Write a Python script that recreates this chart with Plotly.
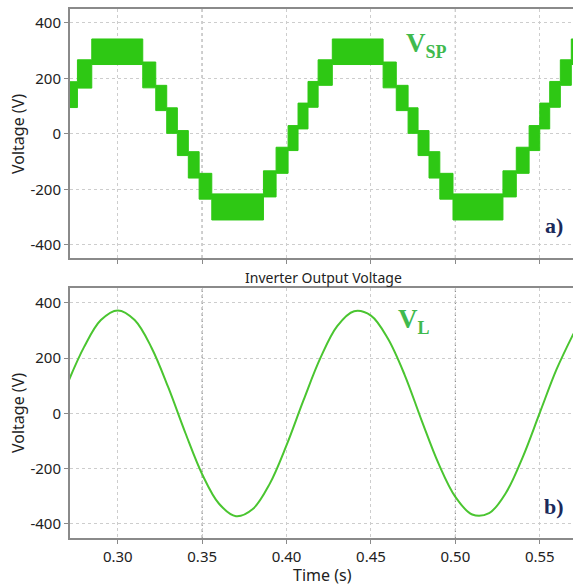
import plotly.graph_objects as go
from plotly.subplots import make_subplots

# ---- data: top (staircase multilevel voltage, PWM band) ----
seg_start = [0.2700, 0.2761, 0.2846, 0.3148, 0.3225, 0.3290, 0.3353, 0.3418, 0.3482, 0.3557,
             0.3863, 0.3938, 0.4009, 0.4068, 0.4127, 0.4187, 0.4271, 0.4572, 0.4650, 0.4720,
             0.4779, 0.4844, 0.4908, 0.4986, 0.5282, 0.5361, 0.5437, 0.5500, 0.5559, 0.5622,
             0.5687]
seg_end_last = 0.5750
seg_low = [95, 165, 250, 166, 84, 2, -78, -159, -235, -310,
           -227, -142, -60, 18, 96, 175, 250, 166, 84, 2,
           -78, -159, -235, -310, -227, -142, -60, 18, 96, 175,
           250]
seg_high = [188, 267, 342, 259, 175, 94, 12, -64, -142, -216,
            -133, -48, 30, 111, 189, 267, 342, 259, 175, 94,
            12, -64, -142, -216, -133, -48, 30, 111, 189, 267,
            342]

# ---- data: bottom (inverter output voltage) ----
t_out = [0.27, 0.28, 0.29, 0.30, 0.31, 0.32, 0.33, 0.34, 0.35, 0.36,
         0.37, 0.38, 0.39, 0.40, 0.41, 0.42, 0.43, 0.44, 0.45, 0.46,
         0.47, 0.48, 0.49, 0.50, 0.51, 0.52, 0.53, 0.54, 0.55, 0.56, 0.57]
v_out = [105, 240, 338, 373, 338, 238, 93, -70, -220, -327,
         -372, -346, -255, -115, 47, 200, 316, 370, 354, 271,
         139, -25, -181, -302, -366, -361, -287, -157, 2, 160, 289]

x_ticks = [0.30, 0.35, 0.40, 0.45, 0.50, 0.55]
x_tick_text = ["0.30", "0.35", "0.40", "0.45", "0.50", "0.55"]
y_ticks = [-400, -200, 0, 200, 400]
y_tick_text = ["-400", "-200", "0", "200", "400"]

# build polygon for band
seg_end = seg_start[1:] + [seg_end_last]
px, py = [], []
for a, b, h in zip(seg_start, seg_end, seg_high):
    px += [a, b]
    py += [h, h]
for a, b, l in reversed(list(zip(seg_start, seg_end, seg_low))):
    px += [b, a]
    py += [l, l]
px.append(px[0]); py.append(py[0])

W, H = 573, 587
ml, mr, mt, mb = 70, 0, 9, 49
plot_h = H - mt - mb
top_dom = [(538 - 258) / plot_h, 1.0]
bot_dom = [0.0, (538 - 288) / plot_h]

fig = make_subplots(rows=2, cols=1)
band_col = "#2ec814"
fig.add_trace(go.Scatter(x=px, y=py, mode="lines", fill="toself", fillcolor=band_col,
                         line=dict(color=band_col, width=1), hoverinfo="skip",
                         showlegend=False), row=1, col=1)
fig.add_trace(go.Scatter(x=t_out, y=v_out, mode="lines", line=dict(color="#4ac530", width=2,
                         shape="spline", smoothing=1.0), showlegend=False), row=2, col=1)

FF = "Noto Sans"
font = dict(family=FF, size=15, color="#222")
xr = [0.2717, 0.5697]
common_x = dict(range=xr, tickvals=x_ticks, ticktext=x_tick_text, showgrid=True,
                gridcolor="#cdcdcd", griddash="dot", gridwidth=1, showline=True,
                linecolor="#8a8a8a", linewidth=2, mirror=True, ticks="outside",
                ticklen=4, tickcolor="#8a8a8a", zeroline=False, tickfont=font)
common_y = dict(tickvals=y_ticks, ticktext=y_tick_text, showgrid=True,
                gridcolor="#cdcdcd", griddash="dot", gridwidth=1, showline=True,
                linecolor="#8a8a8a", linewidth=2, mirror=False, ticks="outside",
                ticklen=4, tickcolor="#8a8a8a", zeroline=False, tickfont=font)

fig.update_layout(
    width=W, height=H, margin=dict(l=ml, r=mr, t=mt, b=mb),
    paper_bgcolor="white", plot_bgcolor="white",
    xaxis=dict(common_x, domain=[0, 1], showticklabels=False, anchor="y"),
    yaxis=dict(common_y, domain=top_dom, range=[-447, 450], anchor="x"),
    xaxis2=dict(common_x, domain=[0, 1], anchor="y2"),
    yaxis2=dict(common_y, domain=bot_dom, range=[-451, 454], anchor="x2"),
)

# darker dotted verticals
for xv in [0.35, 0.50]:
    for yr in ["y domain", "y2 domain"]:
        xref = "x" if yr == "y domain" else "x2"
        fig.add_shape(type="line", xref=xref, yref=yr, x0=xv, x1=xv, y0=0, y1=1,
                      line=dict(color="#7a7a7a", width=1, dash="dot"), layer="below")

def px2x(p):
    return (p - ml) / (W - ml - mr)

def py2y(p):
    return (H - mb - p) / plot_h

ann = []
ann.append(dict(text="Voltage (V)", x=px2x(18), y=py2y(134), textangle=-90,
                font=dict(family=FF, size=16, color="#222")))
ann.append(dict(text="Voltage (V)", x=px2x(18), y=py2y(413), textangle=-90,
                font=dict(family=FF, size=16, color="#222")))
ann.append(dict(text="Time (s)", x=px2x(322), y=py2y(575),
                font=dict(family=FF, size=16, color="#222")))
ann.append(dict(text="Inverter Output Voltage", x=px2x(323), y=py2y(277),
                font=dict(family=FF, size=14, color="#222")))
for a in ann:
    fig.add_annotation(xref="paper", yref="paper", showarrow=False,
                       xanchor="center", yanchor="middle", **a)

lab_col = "#3fba4e"
serif = "Liberation Serif"
fig.add_annotation(xref="paper", yref="paper", x=px2x(404), y=py2y(45), xanchor="left",
                   yanchor="middle", showarrow=False,
                   text="<b>V</b><sub><b><span style='font-size:18px'>SP</span></b></sub>",
                   font=dict(family=serif, size=27, color=lab_col))
fig.add_annotation(xref="paper", yref="paper", x=px2x(396), y=py2y(321), xanchor="left",
                   yanchor="middle", showarrow=False,
                   text="<b>V</b><sub><b><span style='font-size:18px'>L</span></b></sub>",
                   font=dict(family=serif, size=27, color=lab_col))
fig.add_annotation(xref="paper", yref="paper", x=px2x(554), y=py2y(225), xanchor="center",
                   yanchor="middle", showarrow=False, text="<b>a)</b>",
                   font=dict(family=serif, size=22, color="#1b2a5c"))
fig.add_annotation(xref="paper", yref="paper", x=px2x(554), y=py2y(506), xanchor="center",
                   yanchor="middle", showarrow=False, text="<b>b)</b>",
                   font=dict(family=serif, size=22, color="#1b2a5c"))

fig.write_html("out.html")
